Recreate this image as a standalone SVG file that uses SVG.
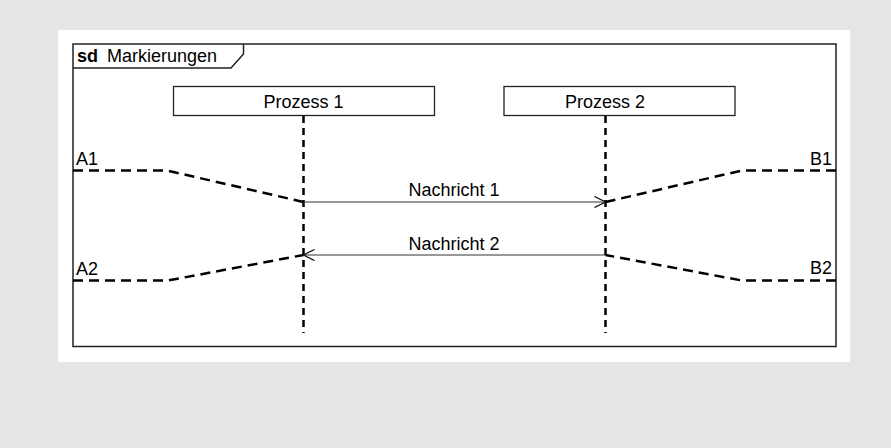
<svg xmlns="http://www.w3.org/2000/svg" width="891" height="448" viewBox="0 0 891 448">
  <defs>
    <style>
      .txt { font-family: "Liberation Sans", Arial, sans-serif; font-size: 18px; fill: #000; }
      .bold { font-weight: bold; }
      .frame { fill: none; stroke: #222; stroke-width: 1.5; }
      .box { fill: #fff; stroke: #222; stroke-width: 1.3; }
      .life { fill: none; stroke: #000; stroke-width: 2.5; stroke-dasharray: 7 5; }
      .mark { fill: none; stroke: #000; stroke-width: 2.5; stroke-dasharray: 10 6; }
      .msg { fill: none; stroke: #333; stroke-width: 1.2; }
    </style>
    <marker id="open-arrow" viewBox="0 0 12 12" refX="11.5" refY="6" markerWidth="12" markerHeight="12" markerUnits="userSpaceOnUse" orient="auto">
      <path d="M0.5,0.5 L11.5,6 L0.5,11.5" fill="none" stroke="#111" stroke-width="1.3"/>
    </marker>
  </defs>

  <!-- page background and sheet -->
  <rect x="0" y="0" width="891" height="448" fill="#e5e5e5"/>
  <rect x="58" y="30" width="792" height="332" fill="#fff"/>

  <!-- sequence diagram frame with name tab -->
  <g id="frame">
    <rect class="frame" x="73" y="44" width="763" height="302.5"/>
    <path class="frame" d="M73,68 H231 L243.5,54 V44"/>
    <text class="txt bold" x="77" y="62">sd</text>
    <text class="txt" x="107" y="62">Markierungen</text>
  </g>

  <!-- participants -->
  <g id="prozess1">
    <rect class="box" x="173.5" y="86.5" width="261" height="29"/>
    <text class="txt" x="303.5" y="108" text-anchor="middle">Prozess 1</text>
  </g>
  <g id="prozess2">
    <rect class="box" x="504" y="86.5" width="231" height="29"/>
    <text class="txt" x="605" y="108" text-anchor="middle">Prozess 2</text>
  </g>

  <!-- end labels of the time markers -->
  <g id="marker-a1"><text class="txt" x="76" y="165">A1</text></g>
  <g id="marker-a2"><text class="txt" x="76" y="275">A2</text></g>
  <g id="marker-b1"><text class="txt" x="832" y="165" text-anchor="end">B1</text></g>
  <g id="marker-b2"><text class="txt" x="832" y="274" text-anchor="end">B2</text></g>

  <g id="connectors">
    <!-- lifelines -->
    <line class="life" x1="303.5" y1="116" x2="303.5" y2="333"/>
    <line class="life" x1="605.5" y1="116" x2="605.5" y2="333"/>

    <!-- time markers -->
    <polyline class="mark" points="73,170.5 167,170.5 303.5,202"/>
    <polyline class="mark" points="73,280.5 168,280.5 303.5,255"/>
    <polyline class="mark" points="836,170.5 742,170.5 605.5,202"/>
    <polyline class="mark" points="836,280.5 742,280.5 605.5,255"/>

    <!-- messages -->
    <line class="msg" x1="303.5" y1="202" x2="605.5" y2="202" marker-end="url(#open-arrow)"/>
    <text class="txt" x="454" y="196" text-anchor="middle">Nachricht 1</text>
    <line class="msg" x1="605.5" y1="255" x2="303.5" y2="255" marker-end="url(#open-arrow)"/>
    <text class="txt" x="454" y="250" text-anchor="middle">Nachricht 2</text>
  </g>
</svg>
